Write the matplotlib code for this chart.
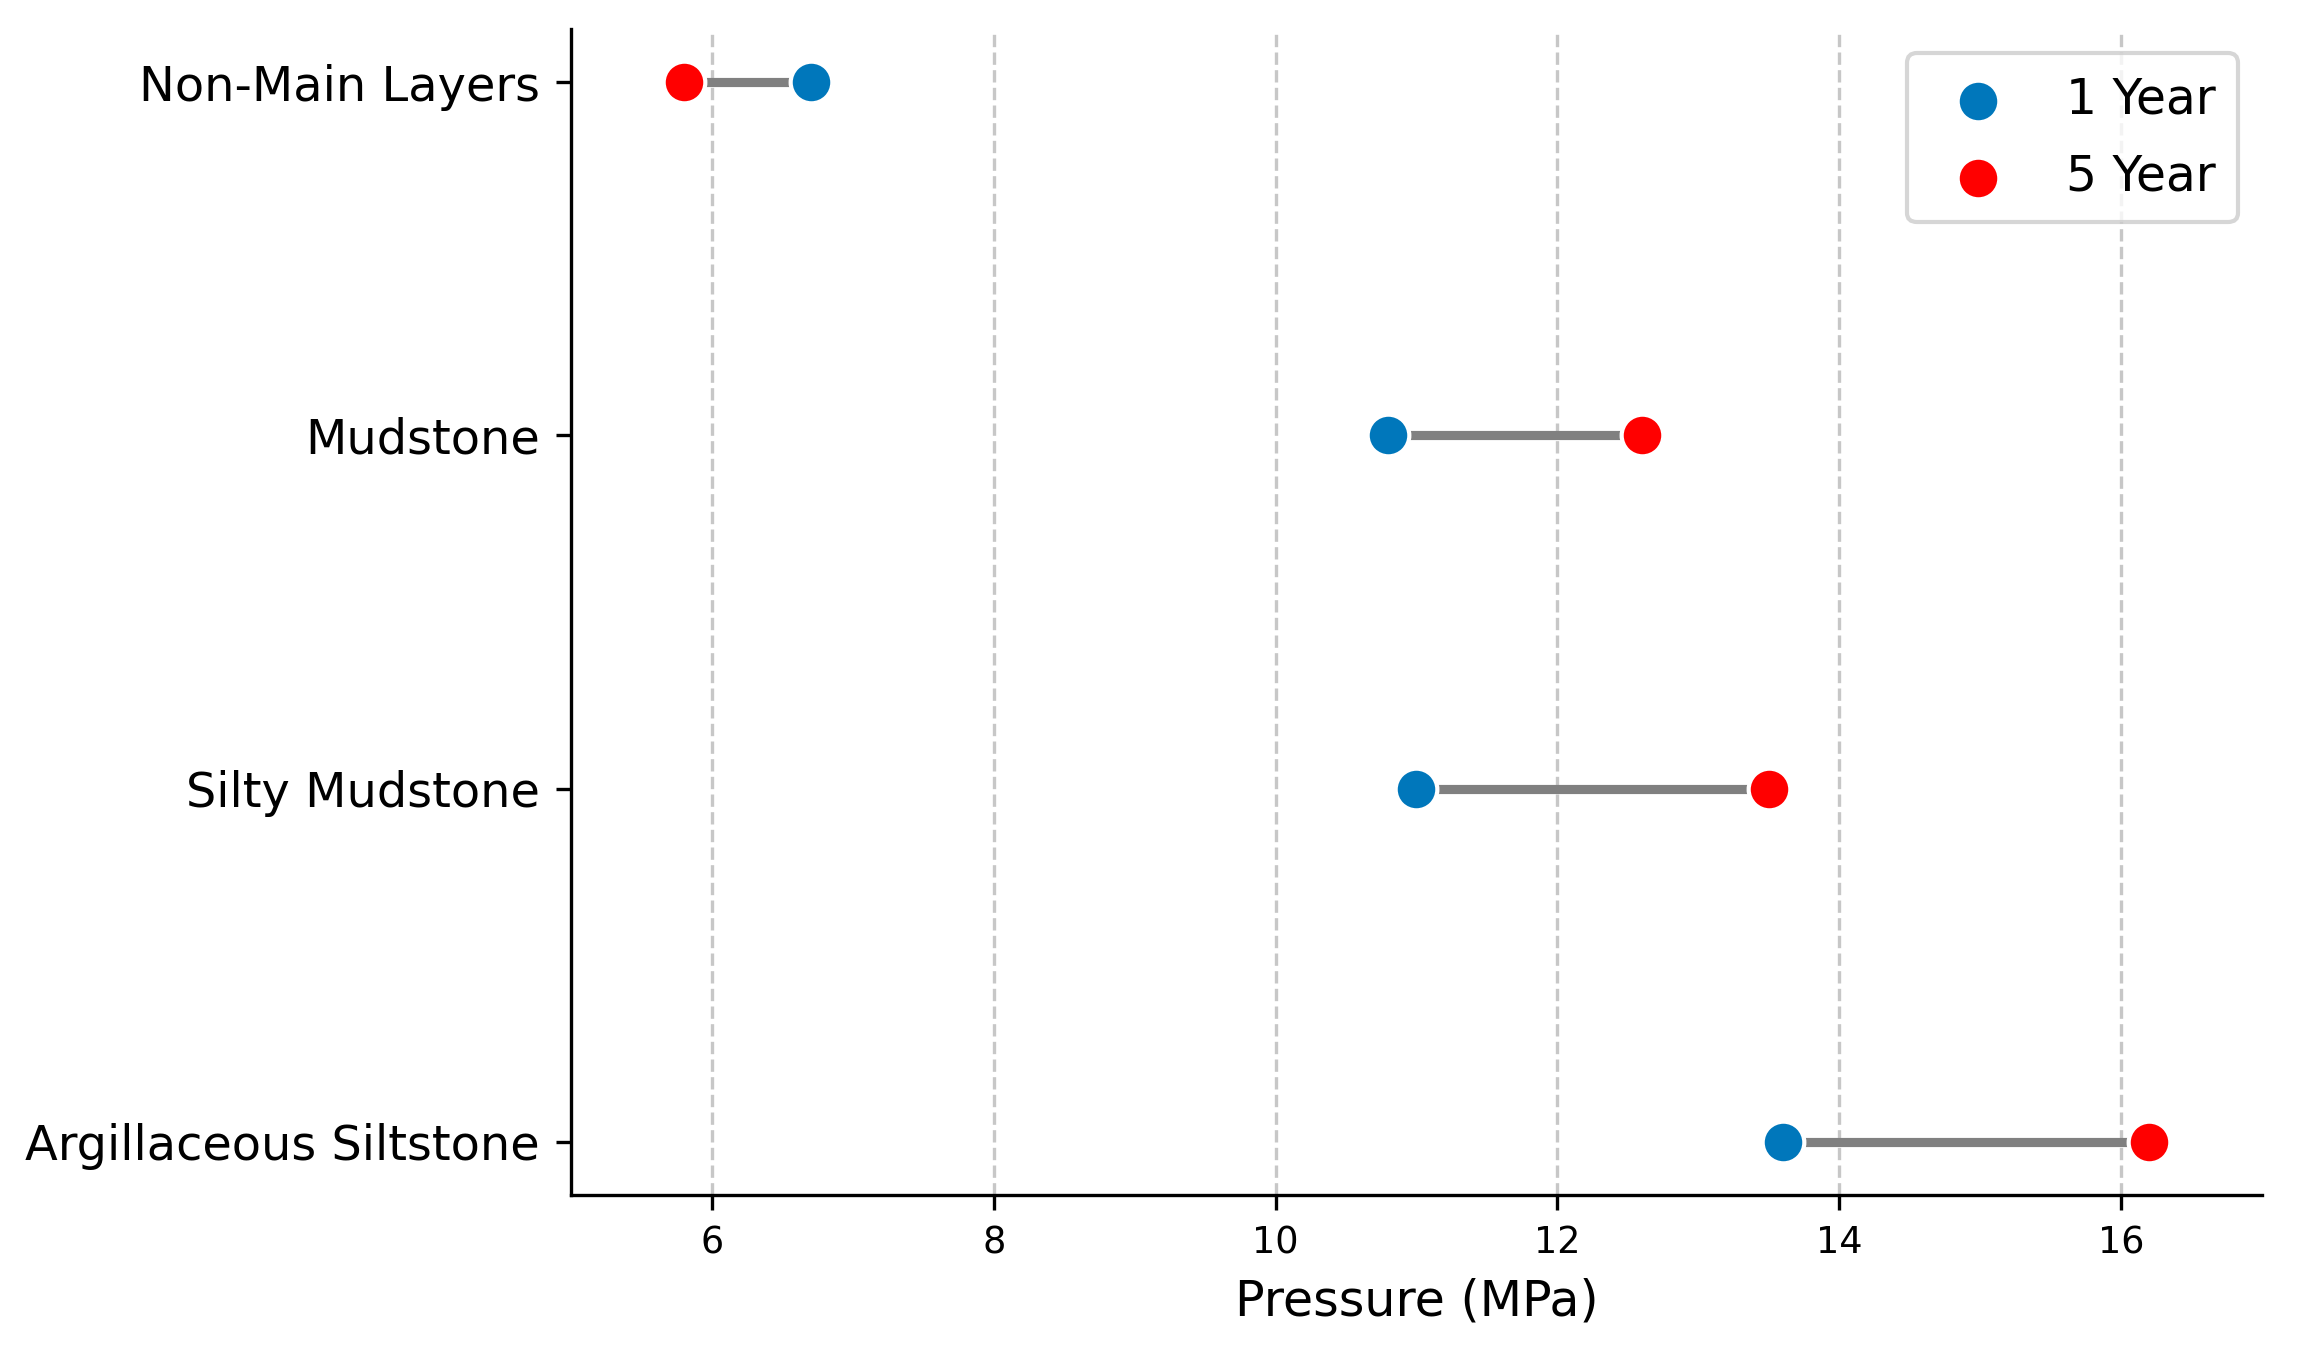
import matplotlib
matplotlib.use("Agg")
import matplotlib.pyplot as plt

categories = ["Argillaceous Siltstone", "Silty Mudstone", "Mudstone", "Non-Main Layers"]
year1 = [13.6, 11.0, 10.8, 6.7]
year5 = [16.2, 13.5, 12.6, 5.8]
series_labels = ["1 Year", "5 Year"]
xticks = [6, 8, 10, 12, 14, 16]

blue = "#0077BB"
red = "#FF0000"

fig = plt.figure(figsize=(7.66, 4.4967), dpi=300)
ax = fig.add_axes([0.2485, 0.1142, 0.7358, 0.8643])

ypos = list(range(len(categories)))
ax.hlines(ypos, year1, year5, color="gray", linewidth=2.2, zorder=2)
ax.scatter(year1, ypos, s=100, color=blue, edgecolor="white", linewidth=1, zorder=3, label=series_labels[0])
ax.scatter(year5, ypos, s=100, color=red, edgecolor="white", linewidth=1, zorder=3, label=series_labels[1])

ax.set_xlim(5, 17)
ax.set_ylim(-0.15, 3.15)
ax.set_yticks(ypos)
ax.set_yticklabels(categories, fontsize=11.5)
ax.tick_params(axis="y", pad=4)
ax.set_xticks(xticks)
ax.tick_params(axis="x", labelsize=8.8)
ax.set_xlabel("Pressure (MPa)", fontsize=11.8)
ax.grid(axis="x", linestyle="--", alpha=0.7)
ax.set_axisbelow(True)
ax.spines["top"].set_visible(False)
ax.spines["right"].set_visible(False)

ax.legend(loc="upper right", fontsize=11.7, labelspacing=0.6, borderpad=0.45)

fig.savefig("out.png", dpi=300)
